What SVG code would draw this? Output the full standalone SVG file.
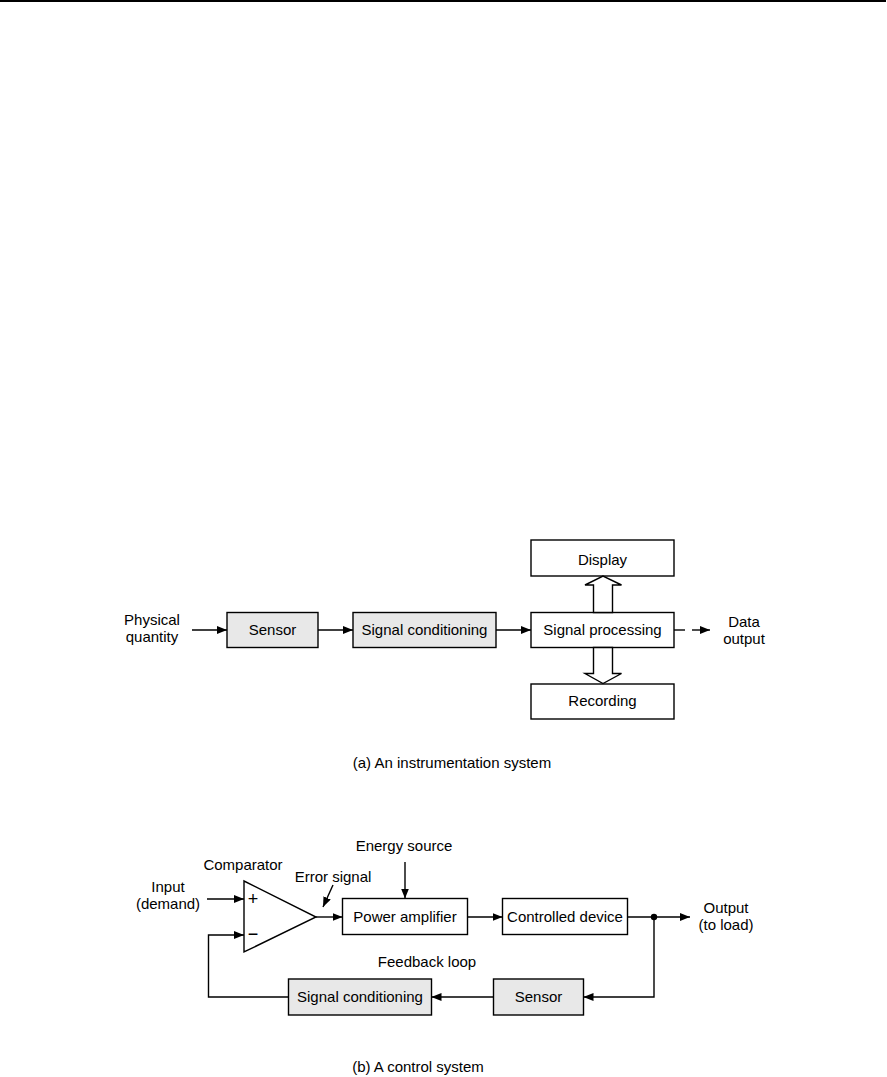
<svg xmlns="http://www.w3.org/2000/svg" width="887" height="1077" viewBox="0 0 887 1077">
<style>
text{font-family:"Liberation Sans",Arial,sans-serif;font-size:15px;fill:#000;text-anchor:middle}
.sign{font-size:18px}
.box{stroke:#000;stroke-width:1.4;fill:#fff}
.gray{fill:#e8e8e8}
.ln{stroke:#000;stroke-width:1.4;fill:none}
.arr{marker-end:url(#ah)}
</style>
<defs>
<marker id="ah" viewBox="0 0 10 8" refX="10" refY="4" markerWidth="10" markerHeight="8" markerUnits="userSpaceOnUse" orient="auto">
<path d="M0,0 L10,4 L0,8 Z" fill="#000"/>
</marker>
</defs>
<rect x="0" y="0" width="886" height="2" fill="#000"/>

<g id="a-physical-quantity"><text x="152" y="625">Physical</text><text x="152" y="642">quantity</text></g>
<g id="a-sensor"><rect class="box gray" x="227" y="612.5" width="91" height="35"/><text x="272.5" y="635">Sensor</text></g>
<g id="a-signal-conditioning"><rect class="box gray" x="353" y="612.5" width="143" height="35"/><text x="424.5" y="635">Signal conditioning</text></g>
<g id="a-signal-processing"><rect class="box" x="531" y="612.5" width="143" height="35"/><text x="602.5" y="635">Signal processing</text></g>
<g id="a-display"><rect class="box" x="531" y="540" width="143" height="36"/><text x="602.5" y="564.5">Display</text></g>
<g id="a-recording"><rect class="box" x="531" y="684" width="143" height="35"/><text x="602.5" y="706">Recording</text></g>
<g id="a-data-output"><text x="744" y="627">Data</text><text x="744" y="644">output</text></g>
<text x="452" y="768">(a) An instrumentation system</text>

<g id="b-input"><text x="168" y="892">Input</text><text x="168" y="909">(demand)</text></g>
<g id="b-comparator"><polygon class="box" points="244,881 244,952 316,917"/><text x="243" y="870">Comparator</text><text class="sign" x="253" y="905">+</text><text class="sign" x="253" y="940">−</text></g>
<g id="b-energy-source"><text x="404" y="851">Energy source</text></g>
<g id="b-error-signal"><text x="333" y="882">Error signal</text></g>
<g id="b-power-amplifier"><rect class="box" x="342.5" y="898.5" width="125" height="36"/><text x="405" y="922">Power amplifier</text></g>
<g id="b-controlled-device"><rect class="box" x="502.5" y="898.5" width="125" height="36"/><text x="565" y="922">Controlled device</text></g>
<g id="b-output"><text x="726" y="913">Output</text><text x="726" y="930">(to load)</text></g>
<g id="b-feedback-loop"><text x="427" y="967">Feedback loop</text></g>
<g id="b-signal-conditioning"><rect class="box gray" x="288.5" y="979" width="143" height="36"/><text x="360" y="1002">Signal conditioning</text></g>
<g id="b-sensor"><rect class="box gray" x="493.5" y="979" width="90" height="36"/><text x="538.5" y="1002">Sensor</text></g>
<text x="418" y="1072">(b) A control system</text>

<g id="connectors">
<line class="ln arr" x1="192" y1="630" x2="227" y2="630"/>
<line class="ln arr" x1="318" y1="630" x2="353" y2="630"/>
<line class="ln arr" x1="496" y1="630" x2="531" y2="630"/>
<line class="ln" x1="674" y1="630" x2="685" y2="630"/>
<line class="ln arr" x1="692" y1="630" x2="710" y2="630"/>
<polygon class="box" points="593.5,612.5 593.5,585 585,585 603,576 621.5,585 612.5,585 612.5,612.5"/>
<polygon class="box" points="593.5,647.5 593.5,673.5 585,673.5 603,683.5 621.5,673.5 612.5,673.5 612.5,647.5"/>

<line class="ln arr" x1="207" y1="899" x2="244" y2="899"/>
<path class="ln arr" d="M288.5,997 H208.5 V935 H244"/>
<line class="ln arr" x1="316" y1="917" x2="342.5" y2="917"/>
<line class="ln arr" x1="405" y1="862" x2="405" y2="898.5"/>
<line class="ln arr" x1="333" y1="885" x2="323" y2="907"/>
<line class="ln arr" x1="467.5" y1="917" x2="502.5" y2="917"/>
<line class="ln arr" x1="627.5" y1="917" x2="690" y2="917"/>
<circle cx="654" cy="917" r="3.2" fill="#000"/>
<path class="ln arr" d="M654,917 V997 H583.5"/>
<line class="ln arr" x1="493.5" y1="997" x2="431.5" y2="997"/>
</g>
</svg>
